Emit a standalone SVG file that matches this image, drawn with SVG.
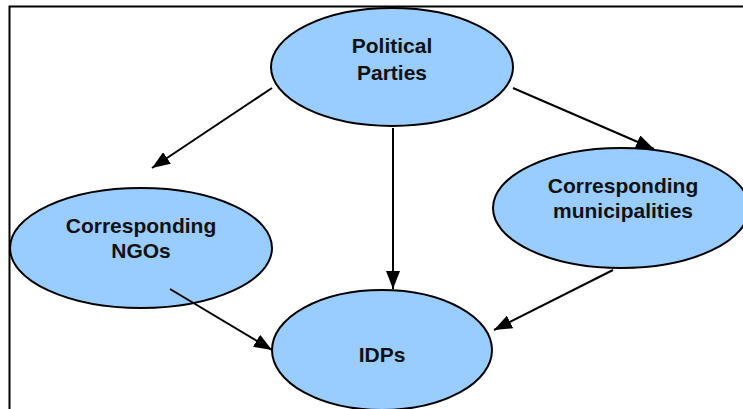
<svg xmlns="http://www.w3.org/2000/svg" width="743" height="409" viewBox="0 0 743 409">
  <style>
    .node ellipse { fill: #99ccff; stroke: #000; stroke-width: 2; }
    .node text { font-family: "Liberation Sans", Arial, sans-serif; font-weight: bold; font-size: 21px; text-anchor: middle; fill: #111; }
    .edge { stroke: #000; stroke-width: 2; fill: none; marker-end: url(#arrow); }
  </style>
  <defs>
    <marker id="arrow" viewBox="0 0 18 14" refX="18" refY="7" markerWidth="18" markerHeight="14" markerUnits="userSpaceOnUse" orient="auto">
      <path d="M0,0 L18,7 L0,14 Z" fill="#000"/>
    </marker>
  </defs>
  <rect width="743" height="409" fill="#fff"/>
  <!-- frame -->
  <path d="M9.5,420 V6.5 H760" fill="none" stroke="#000" stroke-width="2"/>

  <g id="political-parties" class="node">
    <ellipse cx="392" cy="67" rx="121" ry="59"/>
    <text x="392" y="53">Political</text>
    <text x="392" y="80">Parties</text>
  </g>

  <g id="ngos" class="node">
    <ellipse cx="141" cy="248" rx="131" ry="60"/>
    <text x="141" y="233">Corresponding</text>
    <text x="141" y="258">NGOs</text>
  </g>

  <g id="municipalities" class="node">
    <ellipse cx="621" cy="208" rx="128" ry="60"/>
    <text x="623" y="193">Corresponding</text>
    <text x="623" y="218">municipalities</text>
  </g>

  <g id="idps" class="node">
    <ellipse cx="382" cy="350" rx="110" ry="60"/>
    <text x="382" y="362">IDPs</text>
  </g>

  <!-- connectors drawn over the nodes -->
  <g id="connectors">
    <line class="edge" x1="272" y1="88" x2="152" y2="168"/>
    <line class="edge" x1="513" y1="88" x2="654" y2="149"/>
    <line class="edge" x1="393" y1="128" x2="393" y2="289"/>
    <line class="edge" x1="170" y1="289" x2="272" y2="350"/>
    <line class="edge" x1="613" y1="270" x2="494" y2="330"/>
  </g>
</svg>
